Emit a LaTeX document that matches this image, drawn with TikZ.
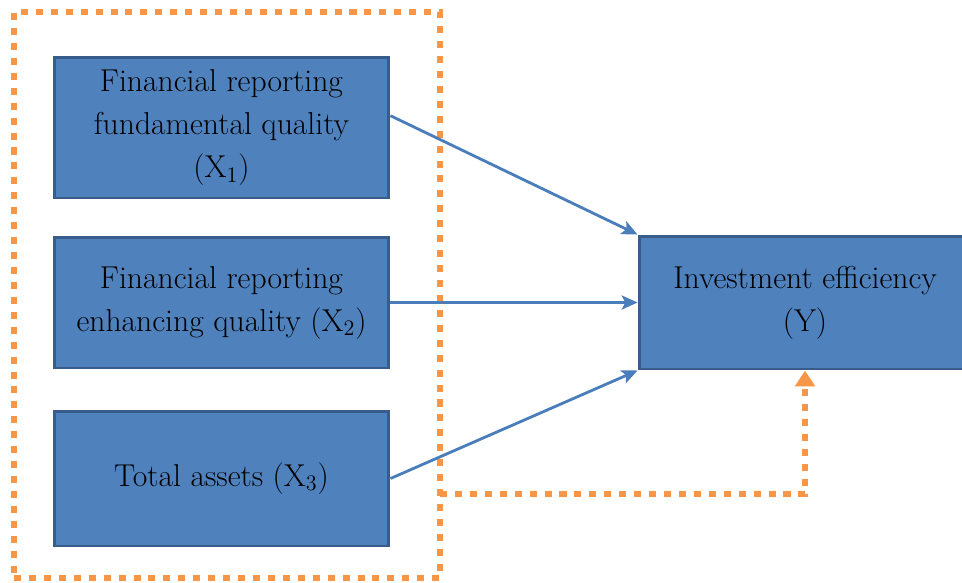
\documentclass[tikz,border=0pt]{standalone}
\usetikzlibrary{arrows.meta}
\definecolor{boxblue}{HTML}{4F81BD}
\definecolor{boxedge}{HTML}{385D8A}
\definecolor{linkblue}{HTML}{4A7EBB}
\definecolor{ctrlorange}{HTML}{F79646}
\begin{document}
\begin{tikzpicture}
     [
     x=0.02cm, y=-0.02cm,
     varbox/.style={rectangle, draw=boxedge, fill=boxblue, line width=1.7pt, align=center, minimum width=6.7cm, font=\fontsize{18}{24.5}\selectfont},
     depbox/.style={rectangle, draw=boxedge, fill=boxblue, line width=1.7pt, align=center, minimum width=6.64cm, minimum height=2.66cm, font=\fontsize{18}{24.5}\selectfont},
     ctrlframe/.style={rectangle, draw=ctrlorange, line width=3.2pt, dash pattern=on 4pt off 4.5pt, minimum width=8.52cm, minimum height=11.32cm},
     link/.style={draw=linkblue, line width=1.6pt, -{Stealth[length=9pt,width=8pt,inset=2pt]}},
     ctrllink/.style={draw=ctrlorange, line width=3.2pt, dash pattern=on 4pt off 4.5pt, -{Triangle[length=9pt,width=11pt]}},
     ]
  \useasboundingbox (0,0) rectangle (962,582);
  \clip (0,0) rectangle (962,582);
  \node at (227,295) [ctrlframe] (frame) {};
 \node at (221.5,127.5) [varbox, minimum height=2.82cm] (x1) {Financial reporting\\ fundamental quality\\ (X\textsubscript{1})};
 \node at (221.5,302.5) [varbox, minimum height=2.62cm] (x2) {Financial reporting\\ enhancing quality (X\textsubscript{2})};
 \node at (221.5,478.5) [varbox, minimum height=2.7cm] (x3) {Total assets (X\textsubscript{3})};
 \node at (805,302.5) [depbox] (y) {Investment efficiency\\ (Y)};
 \coordinate (fr) at (440,494);
 \draw[link] (x1.4) -- (y.north west);
 \draw[link] (x2.east) -- (y.west);
 \draw[link] (x3.east) -- (y.south west);
 \draw[ctrllink] (fr) -| (y.south);
 \end{tikzpicture}
\end{document}
